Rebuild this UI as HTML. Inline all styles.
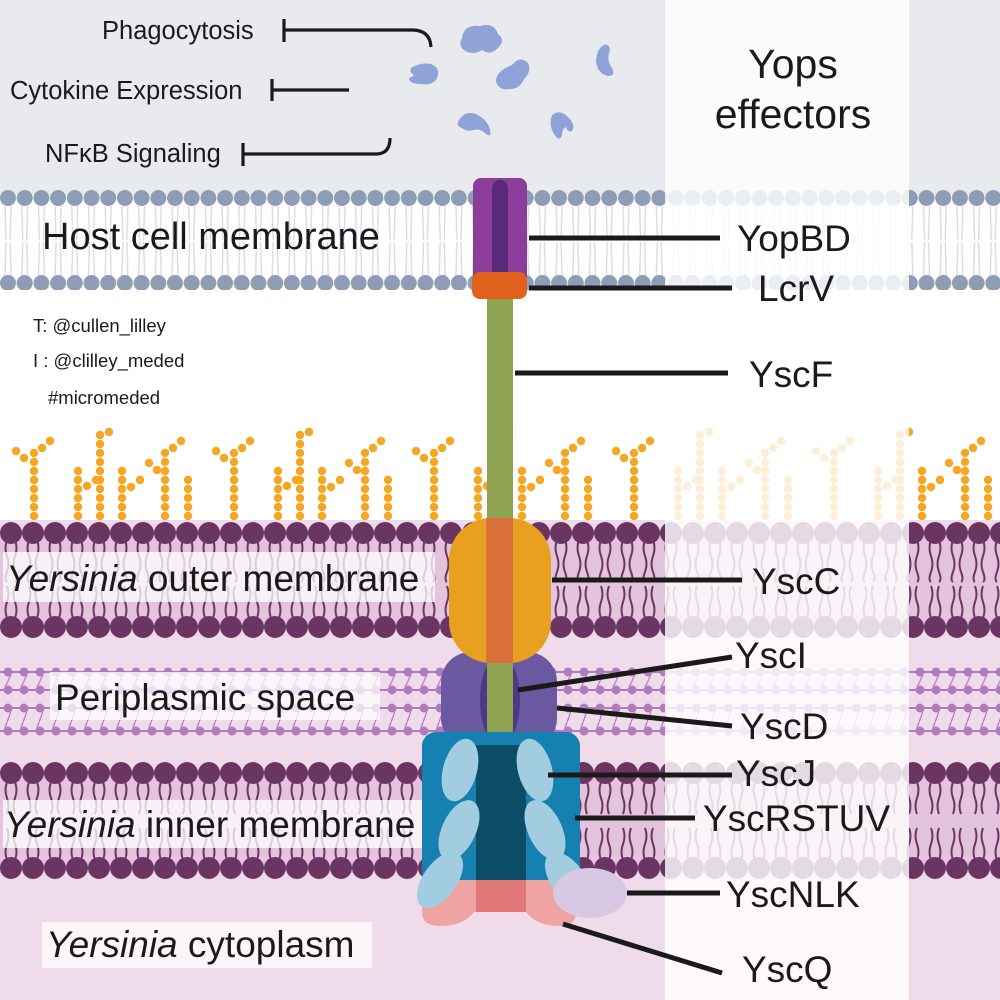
<!DOCTYPE html>
<html><head><meta charset="utf-8"><style>
html,body{margin:0;padding:0;width:1000px;height:1000px;overflow:hidden;background:#fff}
svg{display:block}
text{font-family:"Liberation Sans",sans-serif;fill:#1a1a1a}
</style></head><body>
<svg width="1000" height="1000" viewBox="0 0 1000 1000" xmlns="http://www.w3.org/2000/svg">
<defs>
<pattern id="hostTop" x="0" y="0" width="16.7" height="1000" patternUnits="userSpaceOnUse">
  <circle cx="8" cy="198" r="8" fill="#8d9db3"/>
  <path d="M5 205 L6 240 M11 205 L10 240" stroke="#d3dcea" stroke-width="1.4" fill="none"/>
  <path d="M5 276 L6 242 M11 276 L10 242" stroke="#d3dcea" stroke-width="1.4" fill="none"/>
  <circle cx="8" cy="283" r="8" fill="#8d9db3"/>
</pattern>
<pattern id="outerMem" x="0" y="0" width="22" height="1000" patternUnits="userSpaceOnUse">
  <path d="M7 540 q-3 8 0 16 q3 8 0 16 q-3 8 0 10 M15 540 q3 8 0 16 q-3 8 0 16 q3 8 0 10" stroke="#6b3563" stroke-width="2" fill="none"/>
  <path d="M7 618 q-3 -8 0 -16 q3 -8 0 -16 M15 618 q3 -8 0 -16 q-3 -8 0 -16" stroke="#6b3563" stroke-width="2" fill="none"/>
  <circle cx="11" cy="533" r="11" fill="#6b3563"/>
  <circle cx="11" cy="627" r="11" fill="#6b3563"/>
</pattern>
<pattern id="innerMem" x="0" y="0" width="22" height="1000" patternUnits="userSpaceOnUse">
  <path d="M7 782 q-3 8 0 16 q3 8 0 16 M15 782 q3 8 0 16 q-3 8 0 16" stroke="#6b3563" stroke-width="2" fill="none"/>
  <path d="M7 860 q-3 -8 0 -16 q3 -8 0 -16 M15 860 q3 -8 0 -16 q-3 -8 0 -16" stroke="#6b3563" stroke-width="2" fill="none"/>
  <circle cx="11" cy="773" r="11" fill="#6b3563"/>
  <circle cx="11" cy="868" r="11" fill="#6b3563"/>
</pattern>
<pattern id="pg" x="0" y="0" width="16" height="1000" patternUnits="userSpaceOnUse">
  <path d="M0 672 H16 M0 690 H16 M0 708 H16 M0 731 H16" stroke="#b07cc0" stroke-width="2"/>
  <path d="M4 690 L12 672 M4 731 L12 708" stroke="#b07cc0" stroke-width="1.2"/>
  <circle cx="8" cy="672" r="4.5" fill="#b07cc0"/>
  <circle cx="8" cy="690" r="4.5" fill="#b07cc0"/>
  <circle cx="8" cy="708" r="4.5" fill="#b07cc0"/>
  <circle cx="8" cy="731" r="4.5" fill="#b07cc0"/>
</pattern>
<g id="ch" fill="#f5a623">
  <circle cx="0" cy="0" r="4.2"/><circle cx="0" cy="-9" r="4.2"/><circle cx="0" cy="-18" r="4.2"/><circle cx="0" cy="-27" r="4.2"/><circle cx="0" cy="-36" r="4.2"/>
</g>
<pattern id="lps" x="0" y="0" width="200" height="1000" patternUnits="userSpaceOnUse">
  <g fill="#f5a623">
    <use href="#ch" x="34" y="516"/><circle cx="34" cy="471" r="4.2"/><circle cx="34" cy="462" r="4.2"/><circle cx="34" cy="453" r="4.2"/>
    <circle cx="42" cy="448" r="4.2"/><circle cx="50" cy="441" r="4.2"/><circle cx="24" cy="458" r="4.2"/><circle cx="16" cy="451" r="4.2"/>
    <use href="#ch" x="78" y="516"/><circle cx="78" cy="471" r="4.2"/><circle cx="87" cy="486" r="4.2"/><circle cx="96" cy="480" r="4.2"/>
    <use href="#ch" x="122" y="516"/><circle cx="122" cy="471" r="4.2"/><circle cx="131" cy="487" r="4.2"/><circle cx="140" cy="480" r="4.2"/>
    <use href="#ch" x="165" y="516"/><circle cx="165" cy="471" r="4.2"/><circle cx="165" cy="462" r="4.2"/><circle cx="165" cy="453" r="4.2"/>
    <circle cx="173" cy="448" r="4.2"/><circle cx="181" cy="441" r="4.2"/><circle cx="157" cy="470" r="4.2"/><circle cx="149" cy="463" r="4.2"/>
    <use href="#ch" x="188" y="516"/>
    <use href="#ch" x="100" y="516"/><circle cx="100" cy="471" r="4.2"/><circle cx="100" cy="462" r="4.2"/><circle cx="100" cy="453" r="4.2"/><circle cx="100" cy="444" r="4.2"/><circle cx="100" cy="435" r="4.2"/><circle cx="109" cy="432" r="4.2"/>
  </g>
</pattern>
</defs>

<!-- backgrounds -->
<rect x="0" y="0" width="1000" height="1000" fill="#f0dbea"/>
<rect x="0" y="0" width="1000" height="195" fill="#e9eaee"/>
<rect x="0" y="195" width="1000" height="325" fill="#ffffff"/>
<rect x="0" y="190" width="1000" height="100" fill="url(#hostTop)"/>
<rect x="0" y="425" width="1000" height="97" fill="url(#lps)"/>
<rect x="0" y="533" width="1000" height="94" fill="#e4c3dd"/>
<rect x="0" y="520" width="1000" height="120" fill="url(#outerMem)"/>
<rect x="0" y="664" width="1000" height="74" fill="url(#pg)"/>
<rect x="0" y="773" width="1000" height="95" fill="#e4c3dd"/>
<rect x="0" y="760" width="1000" height="120" fill="url(#innerMem)"/>

<!-- effector blobs -->
<g fill="#8fa3d8">
  <path d="M462 38 q2 -14 18 -12 q14 -4 18 8 q8 6 0 14 q-8 8 -16 2 q-10 6 -18 0 q-6 -4 -2 -12z"/>
  <path d="M411 68 q10 -6 20 -4 q10 4 6 14 q-4 8 -16 6 q-12 0 -12 -6 q6 -2 4 -4 q-4 -2 -2 -6z"/>
  <path d="M512 65 q8 -10 16 -2 q4 8 -4 16 q-4 10 -14 10 q-12 2 -14 -8 q0 -10 16 -16z"/>
  <path d="M600 48 q8 -8 10 2 q-4 10 2 18 q4 8 -4 8 q-10 -2 -12 -14 q0 -8 4 -14z"/>
  <path d="M458 122 q6 -12 18 -8 q12 6 14 16 q2 8 -4 4 q-6 -6 -12 -4 q-8 2 -12 -2 q-6 -2 -4 -6z"/>
  <path d="M552 115 q8 -6 16 2 q8 8 4 14 q-4 2 -6 -4 q-4 2 -4 8 q-2 6 -6 2 q-8 -10 -4 -22z"/>
</g>

<!-- inhibition arrows -->
<g stroke="#1a1a1a" stroke-width="3.2" fill="none">
  <path d="M284 19 V42 M284 30 H412 q18 0 19 17"/>
  <path d="M272 79 V101 M272 90 H349"/>
  <path d="M243 143 V166 M243 154 H376 q14 0 14 -16"/>
</g>
<text x="102" y="39" font-size="25.5">Phagocytosis</text>
<text x="10" y="99" font-size="25.5">Cytokine Expression</text>
<text x="45" y="162" font-size="25.5">NFκB Signaling</text>

<!-- credits -->
<text x="33" y="332" font-size="18.5">T: @cullen_lilley</text>
<text x="33" y="367" font-size="18.5">I : @clilley_meded</text>
<text x="48" y="404" font-size="18.5">#micromeded</text>

<!-- label boxes -->
<rect x="3" y="552" width="432" height="50" fill="#fff" opacity="0.75"/>
<rect x="50" y="672" width="330" height="48" fill="#fff" opacity="0.75"/>
<rect x="3" y="800" width="427" height="48" fill="#fff" opacity="0.75"/>
<rect x="42" y="922" width="330" height="46" fill="#fff" opacity="0.75"/>
<text x="42" y="249" font-size="38">Host cell membrane</text>
<text x="6" y="591" font-size="37"><tspan font-style="italic">Yersinia</tspan> outer membrane</text>
<text x="55" y="710" font-size="37">Periplasmic space</text>
<text x="4" y="837" font-size="37"><tspan font-style="italic">Yersinia</tspan> inner membrane</text>
<text x="46" y="957" font-size="37"><tspan font-style="italic">Yersinia</tspan> cytoplasm</text>

<!-- right panel overlay -->
<rect x="665" y="0" width="244" height="1000" fill="#ffffff" opacity="0.82"/>

<!-- machine -->
<rect x="487" y="295" width="26" height="370" fill="#8fa352"/>
<rect x="473" y="178" width="54" height="110" rx="8" fill="#8b3d9b"/>
<rect x="492" y="180" width="16" height="108" rx="8" fill="#5a2a7a"/>
<rect x="472" y="272" width="55" height="27" rx="8" fill="#e0601c"/>
<rect x="441" y="652" width="116" height="96" rx="30" fill="#6a58a0"/>
<ellipse cx="500" cy="700" rx="20" ry="45" fill="#4a3a85"/>
<rect x="487" y="650" width="26" height="100" rx="10" fill="#8fa352"/>
<rect x="449" y="518" width="102" height="145" rx="42" fill="#e8a020"/>
<rect x="486" y="518" width="27" height="145" fill="#d9703a"/>
<rect x="422" y="732" width="158" height="160" rx="14" fill="#1680b0"/>
<rect x="476" y="745" width="50" height="140" fill="#0b4d66"/>
<path d="M422 880 H576 V912 q0 14 -16 14 q-24 0 -34 -14 h-52 q-10 14 -34 14 q-18 0 -18 -14z" fill="#f0a3a3"/>
<path d="M476 880 H526 V912 h-50z" fill="#e07878"/>
<g fill="#a2cde0">
  <ellipse cx="460" cy="770" rx="17" ry="32" transform="rotate(15 460 770)"/>
  <ellipse cx="535" cy="770" rx="17" ry="32" transform="rotate(-15 535 770)"/>
  <ellipse cx="459" cy="830" rx="17" ry="32" transform="rotate(25 459 830)"/>
  <ellipse cx="545" cy="830" rx="17" ry="32" transform="rotate(-25 545 830)"/>
  <ellipse cx="440" cy="880" rx="17" ry="32" transform="rotate(35 440 880)"/>
  <ellipse cx="568" cy="880" rx="17" ry="32" transform="rotate(-35 568 880)"/>
</g>
<ellipse cx="590" cy="893" rx="37" ry="25" fill="#d8c8e4"/>

<!-- leader lines -->
<g stroke="#1a1a1a" stroke-width="5" fill="none">
  <path d="M529 238 H720"/>
  <path d="M529 288 H732"/>
  <path d="M515 373 H728"/>
  <path d="M552 580 H742"/>
  <path d="M518 690 L732 657"/>
  <path d="M557 708 L732 726"/>
  <path d="M548 775 H732"/>
  <path d="M575 818 H695"/>
  <path d="M627 893 H720"/>
  <path d="M563 924 L722 973"/>
</g>
<g font-size="37">
  <text x="793" y="78" font-size="41" text-anchor="middle">Yops</text>
  <text x="793" y="128" font-size="41" text-anchor="middle">effectors</text>
  <text x="737" y="251">YopBD</text>
  <text x="758" y="301">LcrV</text>
  <text x="749" y="387">YscF</text>
  <text x="752" y="594">YscC</text>
  <text x="735" y="668">YscI</text>
  <text x="740" y="739">YscD</text>
  <text x="736" y="786">YscJ</text>
  <text x="703" y="831">YscRSTUV</text>
  <text x="726" y="907">YscNLK</text>
  <text x="742" y="982">YscQ</text>
</g>
</svg>
</body></html>
